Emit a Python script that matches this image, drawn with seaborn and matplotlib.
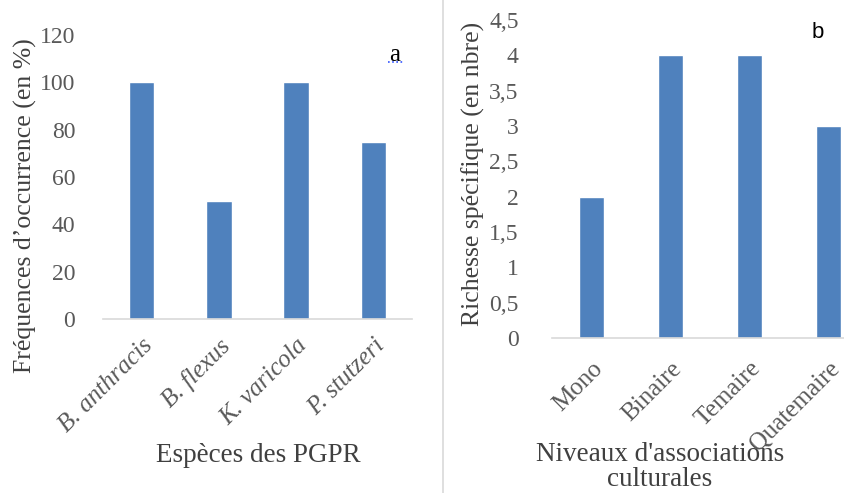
import matplotlib
matplotlib.use("Agg")
import matplotlib.pyplot as plt
import seaborn as sns
import pandas as pd
from matplotlib.lines import Line2D

# Data
species = ["B. anthracis", "B. flexus", "K. varicola", "P. stutzeri"]
frequencies = [100, 50, 100, 75]
levels = ["Mono", "Binaire", "Temaire", "Quatemaire"]
richness = [2, 4, 4, 3]
yticks_a = [0, 20, 40, 60, 80, 100, 120]
yticks_b = [0, 0.5, 1, 1.5, 2, 2.5, 3, 3.5, 4, 4.5]
yticklabels_b = ["0", "0,5", "1", "1,5", "2", "2,5", "3", "3,5", "4", "4,5"]

sns.set_theme(style="white")
plt.rcParams["font.family"] = ["Liberation Serif", "DejaVu Serif"]

BAR = "#4F81BD"
TICK = "#595959"
LAB = "#404040"
AXL = "#D9D9D9"

fig = plt.figure(figsize=(8.45, 4.93), dpi=100)
axa = fig.add_axes([103/845, 1-319/493, (412-103)/845, (319-35)/493])
axb = fig.add_axes([552/845, 1-338/493, (845-552)/845, (338-20)/493])

dfa = pd.DataFrame({"sp": species, "f": frequencies})
dfb = pd.DataFrame({"lv": levels, "r": richness})
sns.barplot(data=dfa, x="sp", y="f", ax=axa, color=BAR, width=0.33, saturation=1)
sns.barplot(data=dfb, x="lv", y="r", ax=axb, color=BAR, width=0.32, saturation=1)

for ax in (axa, axb):
    for s in ("top", "left", "right"):
        ax.spines[s].set_visible(False)
    ax.spines["bottom"].set_color(AXL)
    ax.spines["bottom"].set_linewidth(1.2)
    ax.tick_params(length=0, colors=TICK, labelsize=17)
    ax.tick_params(axis="x", labelsize=18)
    ax.set_xlabel("")
    ax.set_ylabel("")

axa.set_xlim(-0.5, 3.5)
axa.set_ylim(0, 120)
axa.set_yticks(yticks_a)
axa.set_yticklabels([str(v) for v in yticks_a])
axa.tick_params(axis="y", pad=20)
axa.tick_params(axis="x", pad=11)
for lbl in axa.get_xticklabels():
    lbl.set_rotation(45)
    lbl.set_ha("right")
    lbl.set_rotation_mode("anchor")
    lbl.set_fontstyle("italic")

axb.set_xlim(-0.5, 3.21)
axb.set_ylim(0, 4.5)
axb.set_yticks(yticks_b)
axb.set_yticklabels(yticklabels_b)
axb.tick_params(axis="y", pad=24)
axb.tick_params(axis="x", pad=14)
for lbl in axb.get_xticklabels():
    lbl.set_rotation(45)
    lbl.set_ha("right")
    lbl.set_rotation_mode("anchor")

fig.text(25/845, 1-206/493, "Fréquences d\u2019occurrence (en %)", rotation=90,
         ha="center", va="center", fontsize=18.5, color=LAB)
fig.text(258/845, 1-455/493, "Espèces des PGPR", ha="center", va="center",
         fontsize=19.5, color=LAB)
fig.text(395/845, 1-55/493, "a", ha="center", va="center", fontsize=18, color="black")
fig.add_artist(Line2D([388/845, 403/845], [1-62/493, 1-62/493], color="#3355FF",
                      lw=1.2, ls=(0, (1, 1.5)), transform=fig.transFigure))

fig.text(473/845, 1-174/493, "Richesse spécifique (en nbre)", rotation=90,
         ha="center", va="center", fontsize=18.5, color=LAB)
fig.text(660/845, 1-467/493, "Niveaux d'associations\nculturales", ha="center",
         va="center", fontsize=19.5, color=LAB, linespacing=1.05)
fig.text(818/845, 1-33/493, "b", ha="center", va="center", fontsize=16,
         color="black", family=["Liberation Sans", "DejaVu Sans"])

fig.add_artist(Line2D([443.5/845, 443.5/845], [0, 1], color=AXL, lw=1.2,
                      transform=fig.transFigure))

fig.savefig("out.png", dpi=100)
